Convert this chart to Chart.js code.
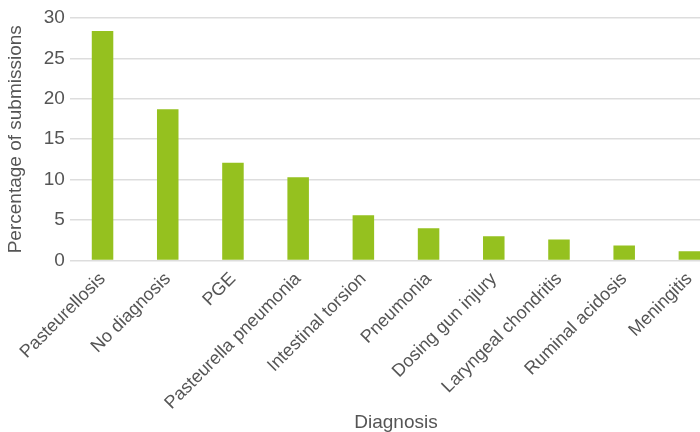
<!DOCTYPE html>
<html>
<head>
<meta charset="utf-8">
<script src="https://cdn.jsdelivr.net/npm/chart.js@4/dist/chart.umd.min.js"></script>
<style>
  html, body { margin: 0; padding: 0; overflow: hidden; background: #fff; }
  #wrap { width: 722px; height: 432px; }
</style>
</head>
<body>
<div id="wrap"><canvas id="barChart"></canvas></div>
<script>
// DATA
let diagnoses = ['Pasteurellosis', 'No diagnosis', 'PGE', 'Pasteurella pneumonia', 'Intestinal torsion',
                 'Pneumonia', 'Dosing gun injury', 'Laryngeal chondritis', 'Ruminal acidosis', 'Meningitis'];
let percentages = [28.4, 18.7, 12.1, 10.3, 5.6, 4.0, 3.0, 2.6, 1.85, 1.15];
let yTicks = [0, 5, 10, 15, 20, 25, 30];

let barColor = '#95c11f';
let textColor = '#555555';
let gridColor = '#dddddd';

Chart.defaults.font.family = '"Liberation Sans", Arial, sans-serif';
Chart.defaults.color = textColor;

let ctx = document.getElementById('barChart').getContext('2d');
let barChart = new Chart(ctx, {
    type: 'bar',
    data: {
        labels: diagnoses,
        datasets: [{
            label: 'Percentage of submissions',
            data: percentages,
            backgroundColor: barColor,
            borderWidth: 0,
            barPercentage: 0.33,
            categoryPercentage: 1
        }]
    },
    options: {
        responsive: true,
        maintainAspectRatio: false,
        animation: false,
        layout: { padding: { top: 18, left: 4, right: 0, bottom: 0 } },
        plugins: {
            legend: { display: false },
            tooltip: { enabled: false }
        },
        scales: {
            x: {
                grid: { display: false },
                border: { display: false },
                ticks: {
                    maxRotation: 45,
                    minRotation: 45,
                    autoSkip: false,
                    font: { size: 18 },
                    color: textColor,
                    padding: 0
                },
                title: {
                    display: true,
                    text: 'Diagnosis',
                    font: { size: 19, lineHeight: 0.95 },
                    color: textColor,
                    padding: { top: 0, bottom: 0 }
                }
            },
            y: {
                min: 0,
                max: 30,
                afterBuildTicks: function (axis) {
                    axis.ticks = yTicks.map(function (v) { return { value: v }; });
                },
                grid: { color: gridColor, lineWidth: 1.5, drawTicks: false },
                border: { display: false },
                ticks: {
                    font: { size: 19 },
                    color: textColor,
                    padding: 5
                },
                title: {
                    display: true,
                    text: 'Percentage of submissions',
                    font: { size: 19 },
                    color: textColor,
                    padding: { top: 0, bottom: 12 }
                }
            }
        }
    }
});
</script>
</body>
</html>
